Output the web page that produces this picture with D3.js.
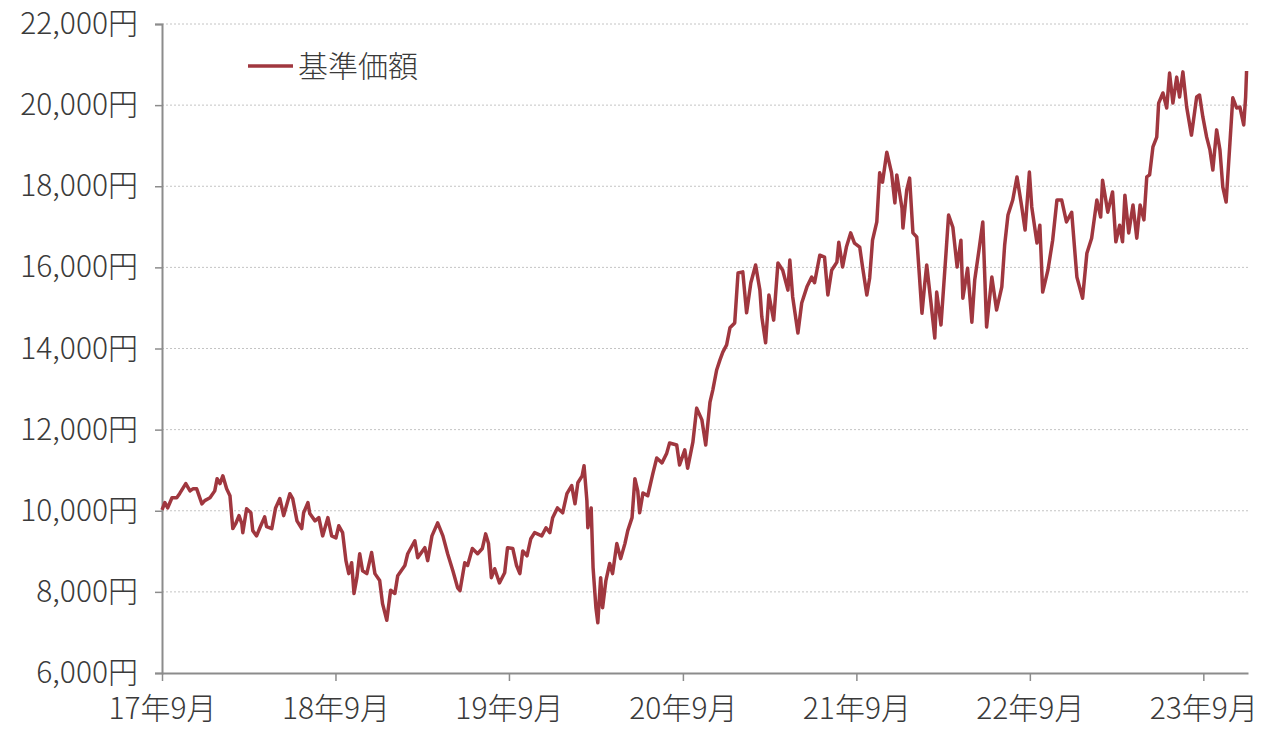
<!DOCTYPE html>
<html><head><meta charset="utf-8">
<script src="https://cdn.jsdelivr.net/npm/d3@7"></script>
<style>
html,body{margin:0;padding:0;background:#fff;}
svg text{font-family:"Noto Sans CJK JP","Noto Sans",sans-serif;font-weight:300;fill:#3a3a3a;}
</style></head>
<body>
<svg id="chart" width="1280" height="744"></svg>
<script>
const seriesName = "基準価額";
const dates = [
"2017-09-01","2017-09-07","2017-09-13","2017-09-22","2017-10-02","2017-10-08","2017-10-21","2017-10-30","2017-11-05","2017-11-13",
"2017-11-24","2017-11-30","2017-12-11","2017-12-21","2017-12-26","2018-01-01","2018-01-07","2018-01-15","2018-01-22","2018-01-28",
"2018-02-03","2018-02-10","2018-02-16","2018-02-18","2018-02-26","2018-03-07","2018-03-11","2018-03-19","2018-03-26","2018-04-05",
"2018-04-09","2018-04-20","2018-04-28","2018-05-07","2018-05-15","2018-05-28","2018-06-03","2018-06-12","2018-06-22","2018-06-26",
"2018-07-05","2018-07-09","2018-07-20","2018-07-28","2018-08-05","2018-08-16","2018-08-24","2018-09-02","2018-09-08","2018-09-16",
"2018-09-23","2018-09-29","2018-10-05","2018-10-10","2018-10-16","2018-10-22","2018-10-28","2018-11-06","2018-11-16","2018-11-23",
"2018-12-03","2018-12-09","2018-12-18","2018-12-26","2019-01-04","2019-01-10","2019-01-25","2019-01-31","2019-02-15","2019-02-21",
"2019-03-08","2019-03-14","2019-03-23","2019-04-04","2019-04-15","2019-04-25","2019-05-06","2019-05-16","2019-05-21","2019-05-31",
"2019-06-06","2019-06-16","2019-06-27","2019-07-07","2019-07-14","2019-07-20","2019-07-26","2019-08-02","2019-08-12","2019-08-23",
"2019-08-29","2019-09-09","2019-09-17","2019-09-24","2019-09-30","2019-10-09","2019-10-17","2019-10-25","2019-11-09","2019-11-18",
"2019-11-26","2019-12-02","2019-12-12","2019-12-23","2020-01-01","2020-01-11","2020-01-18","2020-01-24","2020-02-02","2020-02-06",
"2020-02-12","2020-02-14","2020-02-21","2020-02-25","2020-03-02","2020-03-06","2020-03-12","2020-03-16","2020-03-23","2020-03-31",
"2020-04-06","2020-04-15","2020-04-23","2020-05-02","2020-05-08","2020-05-17","2020-05-23","2020-05-29","2020-06-02","2020-06-09",
"2020-06-19","2020-06-30","2020-07-08","2020-07-19","2020-07-29","2020-08-04","2020-08-19","2020-08-25","2020-09-05","2020-09-11",
"2020-09-22","2020-09-30","2020-10-11","2020-10-19","2020-10-28","2020-11-03","2020-11-11","2020-11-18","2020-11-24","2020-12-02",
"2020-12-09","2020-12-19","2020-12-26","2021-01-05","2021-01-13","2021-01-22","2021-02-01","2021-02-10","2021-02-14","2021-02-22",
"2021-03-01","2021-03-11","2021-03-20","2021-03-30","2021-04-10","2021-04-14","2021-04-20","2021-05-01","2021-05-09","2021-05-20",
"2021-05-30","2021-06-05","2021-06-16","2021-06-26","2021-07-03","2021-07-11","2021-07-22","2021-07-26","2021-08-03","2021-08-11",
"2021-08-20","2021-08-28","2021-09-08","2021-09-14","2021-09-23","2021-09-29","2021-10-05","2021-10-14","2021-10-20","2021-10-26",
"2021-11-04","2021-11-14","2021-11-21","2021-11-25","2021-12-06","2021-12-08","2021-12-16","2021-12-22","2021-12-29","2022-01-06",
"2022-01-17","2022-01-23","2022-01-27","2022-02-05","2022-02-13","2022-02-17","2022-02-26","2022-03-08","2022-03-14","2022-03-23",
"2022-04-01","2022-04-09","2022-04-13","2022-04-23","2022-05-02","2022-05-08","2022-05-17","2022-05-25","2022-06-02","2022-06-13",
"2022-06-23","2022-07-04","2022-07-10","2022-07-17","2022-07-27","2022-08-05","2022-08-15","2022-08-22","2022-08-31","2022-09-05",
"2022-09-16","2022-09-22","2022-09-28","2022-10-09","2022-10-19","2022-10-28","2022-11-07","2022-11-17","2022-11-28","2022-12-09",
"2022-12-21","2022-12-30","2023-01-09","2023-01-20","2023-01-28","2023-02-01","2023-02-12","2023-02-22","2023-03-01","2023-03-09",
"2023-03-15","2023-03-20","2023-03-28","2023-04-06","2023-04-14","2023-04-21","2023-04-29","2023-05-05","2023-05-11","2023-05-18",
"2023-05-26","2023-05-30","2023-06-08","2023-06-16","2023-06-22","2023-06-29","2023-07-07","2023-07-13","2023-07-20","2023-07-28",
"2023-08-07","2023-08-18","2023-08-24","2023-08-31","2023-09-08","2023-09-15","2023-09-21","2023-09-29","2023-10-06","2023-10-12",
"2023-10-19","2023-10-27","2023-11-02","2023-11-10","2023-11-17","2023-11-25","2023-11-29","2023-12-01"
];
const values = [
10020,10200,10070,10320,10320,10420,10670,10490,10540,10540,
10170,10250,10320,10490,10790,10670,10860,10540,10370,9560,
9680,9880,9680,9460,10050,9950,9510,9380,9580,9850,
9610,9560,10070,10300,9880,10420,10300,9750,9560,9950,
10200,9930,9750,9830,9380,9830,9380,9330,9630,9460,
8770,8450,8720,7960,8350,8940,8520,8450,8970,8450,
8280,7710,7300,8040,7960,8400,8650,8940,9260,8840,
9090,8770,9380,9700,9380,8940,8520,8100,8030,8720,
8650,9070,8940,9070,9430,9190,8350,8570,8220,8470,
9090,9070,8650,8450,9010,8890,9310,9460,9380,9580,
9460,9830,10070,9950,10420,10620,10170,10690,10860,11110,
10250,9580,10070,8600,7610,7240,8350,7610,8280,8700,
8450,9190,8820,9190,9510,9830,10790,10490,9950,10440,
10370,10930,11300,11180,11420,11670,11620,11130,11500,11050,
11690,12530,12240,11620,12680,12980,13470,13720,13910,14090,
14510,14630,15860,15890,14880,15620,16060,15440,14780,14140,
15320,14700,16110,15930,15440,16180,15270,14380,15120,15520,
15760,15620,16300,16250,15320,15930,16130,16620,16010,16500,
16850,16600,16500,16010,15320,15740,16670,17120,18330,18100,
18840,18330,17590,18280,17460,16970,17910,18200,16850,16750,
14870,15610,16060,15120,14260,15390,14580,16250,17290,16990,
16010,16670,15240,15980,14650,15690,16430,17120,14530,15760,
14950,15520,16550,17290,17660,18230,17490,16920,18350,17490,
16600,17040,15390,15930,16670,17660,17660,17120,17360,15760,
15240,16350,16720,17660,17240,18150,17360,17860,16630,17040,
16630,17780,16850,17540,16720,17540,17170,18230,18280,18970,
19210,20050,20300,19930,20790,20050,20690,20200,20820,19950,
19260,20200,20250,19710,19210,18890,18400,19390,18890,17980,
17610,19070,20180,19930,19950,19510,20200,20840
];
const yTicks = [6000,8000,10000,12000,14000,16000,18000,20000,22000];
const xTickDates = ["2017-09-01","2018-09-01","2019-09-01","2020-09-01","2021-09-01","2022-09-01","2023-09-01"];
const xTickLabels = ["17年9月","18年9月","19年9月","20年9月","21年9月","22年9月","23年9月"];

const parse = d3.timeParse("%Y-%m-%d");
const data = dates.map((d,i)=>({date:parse(d), value:values[i]}));

const margin = {left:162, right:32, top:24, bottom:71};
const W = 1280, H = 744;
const svg = d3.select("#chart");

const x = d3.scaleTime()
  .domain([parse("2017-09-01"), parse("2023-12-04")])
  .range([margin.left, W - margin.right]);
const y = d3.scaleLinear()
  .domain([6000, 22000])
  .range([H - margin.bottom, margin.top]);

const axisColor = "#8c8c8c";
const fontSize = 30;

// gridlines
svg.append("g").selectAll("line")
  .data(yTicks.filter(t => t > 6000))
  .join("line")
  .attr("x1", margin.left).attr("x2", W - margin.right)
  .attr("y1", d => y(d)).attr("y2", d => y(d))
  .attr("stroke", "#c4c4c4").attr("stroke-width", 1)
  .attr("stroke-dasharray", "2,2");

// y axis
const yAxis = d3.axisLeft(y).tickValues(yTicks)
  .tickFormat(d => d3.format(",")(d) + "円")
  .tickSize(7).tickPadding(17);
const gy = svg.append("g").attr("transform", `translate(${margin.left},0)`).call(yAxis);
gy.select(".domain").attr("stroke", axisColor).attr("stroke-width", 2);
gy.selectAll(".tick line").attr("stroke", axisColor).attr("stroke-width", 1.5);
gy.selectAll(".tick text").attr("font-size", fontSize)
  .style("font-family", '"Noto Sans CJK JP", sans-serif').style("font-weight", 300).style("fill", "#3a3a3a");

// x axis
const xAxis = d3.axisBottom(x).tickValues(xTickDates.map(parse))
  .tickFormat((d,i) => xTickLabels[i]).tickSize(8).tickPadding(17).tickSizeOuter(0);
const gx = svg.append("g").attr("transform", `translate(0,${H - margin.bottom})`).call(xAxis);
gx.select(".domain").attr("stroke", axisColor).attr("stroke-width", 2);
gx.selectAll(".tick line").attr("stroke", axisColor).attr("stroke-width", 1.5);
gx.selectAll(".tick text").attr("font-size", fontSize)
  .style("font-family", '"Noto Sans CJK JP", sans-serif').style("font-weight", 300).style("fill", "#3a3a3a");

// line
const line = d3.line().x(d => x(d.date)).y(d => y(d.value));
svg.append("path").datum(data)
  .attr("d", line)
  .attr("fill", "none")
  .attr("stroke", "#a0373f")
  .attr("stroke-width", 3.5)
  .attr("stroke-linejoin", "round");

// legend
const lg = svg.append("g").attr("transform", "translate(248,66)");
lg.append("line").attr("x1", 0).attr("x2", 45).attr("y1", 0).attr("y2", 0)
  .attr("stroke", "#a0373f").attr("stroke-width", 3.5);
lg.append("text").attr("x", 50).attr("y", 0).attr("dy", "0.36em")
  .attr("font-size", fontSize).text(seriesName);
</script>
</body></html>
